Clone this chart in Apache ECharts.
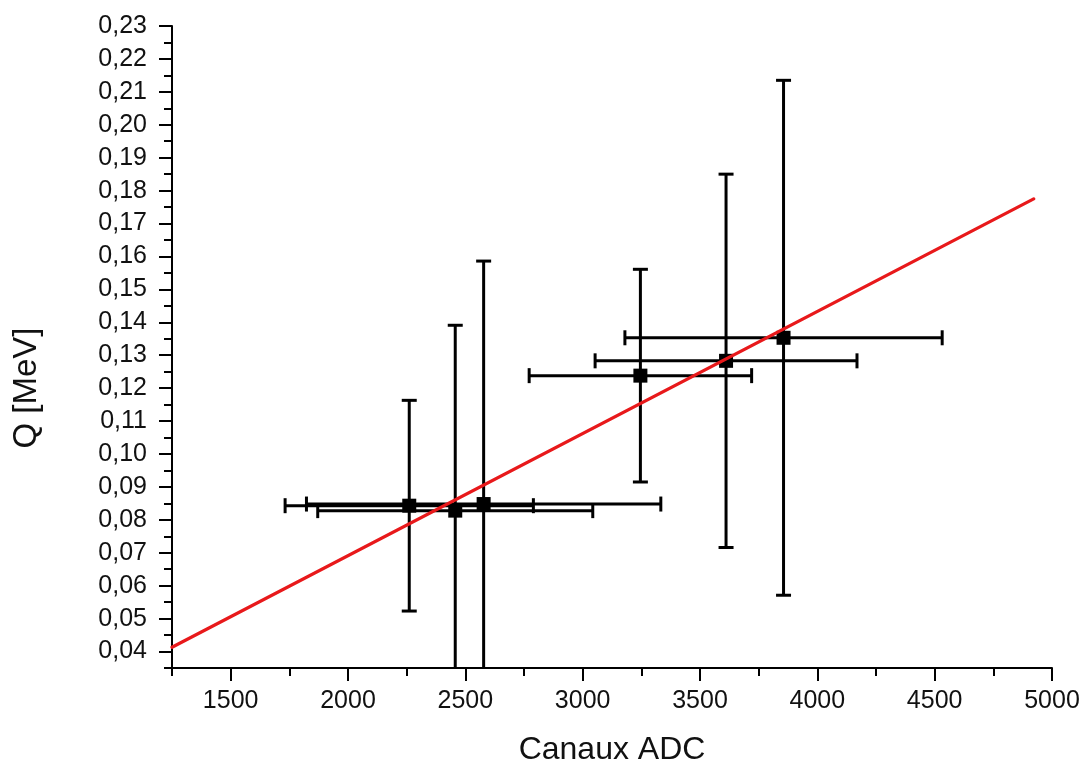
<!DOCTYPE html>
<html>
<head>
<meta charset="utf-8">
<script src="https://cdn.jsdelivr.net/npm/echarts@6/dist/echarts.min.js"></script>
<style>
html,body{margin:0;padding:0;background:#fff;overflow:hidden;}
#chart{width:1083px;height:771px;}
</style>
</head>
<body>
<div id="chart"></div>
<script>
// ---- data ----
const pointX = [2261, 2457, 2578, 3246, 3611, 3856];
const pointY = [0.0843, 0.0828, 0.0848, 0.1238, 0.1283, 0.1353];
const errX = [529, 586, 755, 474, 558, 676];
const errY = [0.032, 0.0563, 0.0738, 0.0323, 0.0567, 0.0782];
const fitX = [1250, 4922];
const fitY = [0.0413, 0.1775];
const xTicks = [1500, 2000, 2500, 3000, 3500, 4000, 4500, 5000];
const xMinorTicks = [1250, 1750, 2250, 2750, 3250, 3750, 4250, 4750];
const yTicks = [0.04, 0.05, 0.06, 0.07, 0.08, 0.09, 0.10, 0.11, 0.12, 0.13, 0.14, 0.15, 0.16, 0.17, 0.18, 0.19, 0.20, 0.21, 0.22, 0.23];
const yMinorTicks = [0.035, 0.045, 0.055, 0.065, 0.075, 0.085, 0.095, 0.105, 0.115, 0.125, 0.135, 0.145, 0.155, 0.165, 0.175, 0.185, 0.195, 0.205, 0.215, 0.225];
const xTitle = 'Canaux ADC';
const yTitle = 'Q [MeV]';

const FONT = '"Liberation Sans", Arial, sans-serif';
const chart = echarts.init(document.getElementById('chart'));

const errData = pointX.map((x, i) => [x, pointY[i], errX[i], errY[i]]);
const fitData = fitX.map((x, i) => [x, fitY[i]]);

const X_MIN = 1250, X_MAX = 5000, Y_MIN = 0.035, Y_MAX = 0.23;

function mainX(extra) {
  return Object.assign({
    type: 'value', min: X_MIN, max: X_MAX, splitLine: {show: false}
  }, extra);
}
function mainY(extra) {
  return Object.assign({
    type: 'value', min: Y_MIN, max: Y_MAX, splitLine: {show: false}
  }, extra);
}

chart.setOption({
  animation: false,
  backgroundColor: '#fff',
  grid: {left: 172, right: 31, top: 26, bottom: 96, containLabel: false},
  xAxis: [
    mainX({
      axisLine: {show: true, lineStyle: {color: '#000', width: 2}},
      axisTick: {show: true, inside: false, length: 13, lineStyle: {color: '#000', width: 2}, customValues: xTicks},
      axisLabel: {show: true, customValues: xTicks, color: '#111', fontSize: 25, fontFamily: FONT, margin: 21,
        formatter: v => String(Math.round(v))},
      name: xTitle, nameLocation: 'middle', nameGap: 66,
      nameTextStyle: {fontSize: 32, fontFamily: FONT, color: '#111'}
    }),
    mainX({
      position: 'bottom',
      axisLine: {show: false},
      axisTick: {show: true, inside: false, length: 8, lineStyle: {color: '#000', width: 2}, customValues: xMinorTicks},
      axisLabel: {show: false}
    })
  ],
  yAxis: [
    mainY({
      axisLine: {show: true, lineStyle: {color: '#000', width: 2}},
      axisTick: {show: true, inside: false, length: 13, lineStyle: {color: '#000', width: 2}, customValues: yTicks},
      axisLabel: {show: true, customValues: yTicks, color: '#111', fontSize: 25, fontFamily: FONT, margin: 25,
        formatter: v => v.toFixed(2).replace('.', ',')}
    }),
    mainY({
      position: 'left',
      axisLine: {show: false},
      axisTick: {show: true, inside: false, length: 8, lineStyle: {color: '#000', width: 2}, customValues: yMinorTicks},
      axisLabel: {show: false}
    })
  ],
  graphic: [{
    type: 'text',
    x: 27, y: 388,
    rotation: Math.PI / 2,
    style: {text: yTitle, fontSize: 33, fontFamily: FONT, fill: '#111', align: 'center', verticalAlign: 'middle'}
  }],
  series: [
    {
      type: 'custom',
      xAxisIndex: 0, yAxisIndex: 0,
      data: errData,
      z: 2,
      renderItem: function (params, api) {
        const x = api.value(0), y = api.value(1), ex = api.value(2), ey = api.value(3);
        const cs = params.coordSys;
        const top = cs.y, bottom = cs.y + cs.height, left = cs.x, right = cs.x + cs.width;
        const c = api.coord([x, y]);
        const l = api.coord([x - ex, y]);
        const r = api.coord([x + ex, y]);
        const t = api.coord([x, y + ey]);
        const b = api.coord([x, y - ey]);
        const clampY = v => Math.min(Math.max(v, top), bottom);
        const clampX = v => Math.min(Math.max(v, left), right);
        const cap = 7.5, sq = 14;
        const st = {stroke: '#000', lineWidth: 3, fill: null};
        const kids = [];
        kids.push({type: 'line', shape: {x1: clampX(l[0]), y1: c[1], x2: clampX(r[0]), y2: c[1]}, style: st});
        kids.push({type: 'line', shape: {x1: c[0], y1: clampY(t[1]), x2: c[0], y2: clampY(b[1])}, style: st});
        if (l[0] >= left) kids.push({type: 'line', shape: {x1: l[0], y1: c[1] - cap, x2: l[0], y2: c[1] + cap}, style: st});
        if (r[0] <= right) kids.push({type: 'line', shape: {x1: r[0], y1: c[1] - cap, x2: r[0], y2: c[1] + cap}, style: st});
        if (t[1] >= top) kids.push({type: 'line', shape: {x1: c[0] - cap, y1: t[1], x2: c[0] + cap, y2: t[1]}, style: st});
        if (b[1] <= bottom) kids.push({type: 'line', shape: {x1: c[0] - cap, y1: b[1], x2: c[0] + cap, y2: b[1]}, style: st});
        kids.push({type: 'rect', shape: {x: c[0] - sq / 2, y: c[1] - sq / 2, width: sq, height: sq}, style: {fill: '#000'}});
        return {type: 'group', children: kids};
      }
    },
    {
      type: 'line',
      xAxisIndex: 0, yAxisIndex: 0,
      data: fitData,
      showSymbol: false,
      symbol: 'none',
      z: 3,
      lineStyle: {color: '#e8191b', width: 3.2, cap: 'round'}
    }
  ]
});
</script>
</body>
</html>
